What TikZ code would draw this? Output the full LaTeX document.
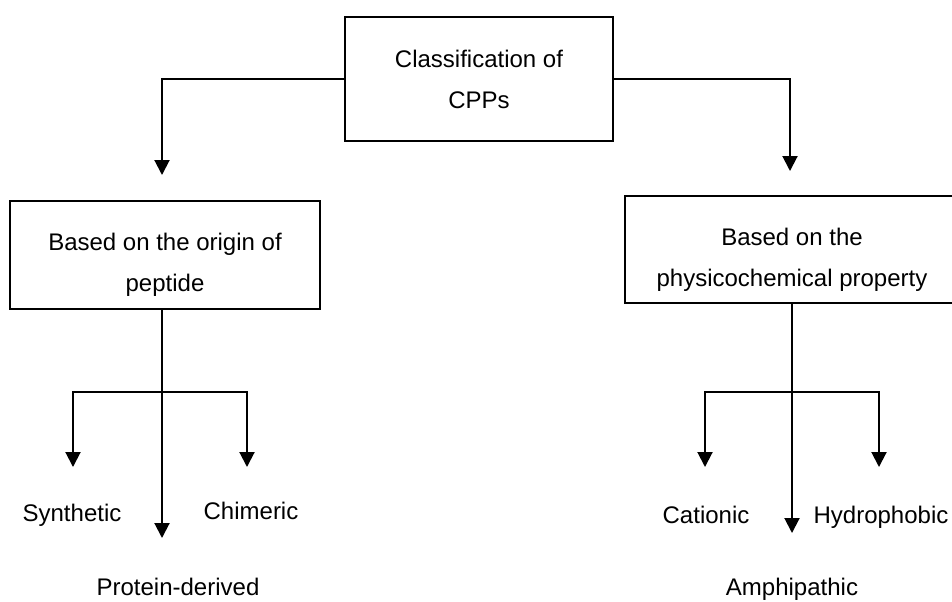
\documentclass[tikz,border=0pt]{standalone}
\usepackage{fontspec}
\setmainfont{Liberation Sans}
\usetikzlibrary{arrows.meta}
\tikzstyle{box} = [rectangle, draw=black, line width=1pt, align=center, font=\fontsize{12}{20.5}\selectfont]
\tikzstyle{boxtext} = [align=center, font=\fontsize{12}{20.5}\selectfont, yshift=-5pt]
\tikzstyle{leaf} = [anchor=base, inner sep=0pt, font=\fontsize{12}{14}\selectfont]
\tikzstyle{arrow} = [line width=1pt, -{Triangle[width=7.5pt,length=7.5pt]}]

\begin{document}
\begin{tikzpicture}[x=0.5pt, y=-0.5pt]
		\useasboundingbox (0,0) rectangle (952,601);
		\clip (0,0) rectangle (952,601);
		\node (cpps) [box, minimum width=134pt, minimum height=62pt] at (479,79) {Classification of\\CPPs};
		\node (origin) [box, minimum width=155pt, minimum height=54pt, label={[boxtext]center:{Based on the origin of\\peptide}}] at (165,255) {};
		\node (physchem) [box, minimum width=167pt, minimum height=53.5pt, label={[boxtext]center:{Based on the\\physicochemical property}}] at (792,249.5) {};
		\coordinate (tl) at (162,175);
		\coordinate (tr) at (790,171);
		\coordinate (jl) at (162,392);
		\coordinate (jr) at (792,392);
		\coordinate (syn) at (73,467);
		\coordinate (chi) at (247,467);
		\coordinate (pro) at (162,538);
		\coordinate (cat) at (705,467);
		\coordinate (hyd) at (879,467);
		\coordinate (amp) at (792,533);
		\node (synthetic) [leaf] at (72,521) {Synthetic};
		\node (chimeric) [leaf] at (251,519) {Chimeric};
		\node (protein) [leaf] at (178,595) {Protein-derived};
		\node (cationic) [leaf] at (706,523) {Cationic};
		\node (hydrophobic) [leaf] at (881,523) {Hydrophobic};
		\node (amphipathic) [leaf] at (792,595) {Amphipathic};
		\draw [arrow] (cpps.west) -| (tl);
		\draw [arrow] (cpps.east) -| (tr);
		\draw [arrow] (origin.south -| jl) -- (pro);
		\draw [arrow] (jl) -| (syn);
		\draw [arrow] (jl) -| (chi);
		\draw [arrow] (physchem.south -| jr) -- (amp);
		\draw [arrow] (jr) -| (cat);
		\draw [arrow] (jr) -| (hyd);
	\end{tikzpicture}
\end{document}
